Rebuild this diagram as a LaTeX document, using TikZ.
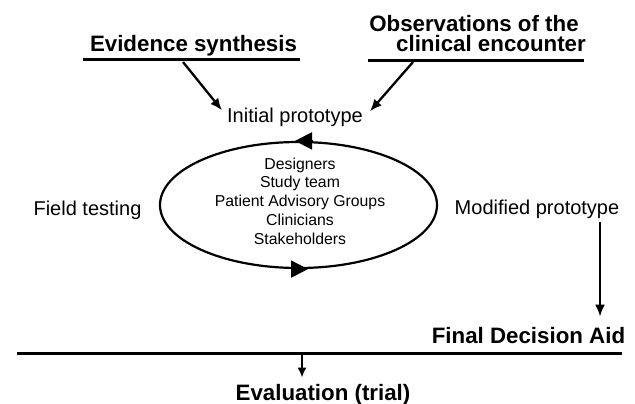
\documentclass[tikz,border=0pt]{standalone}
\usepackage{fontspec}
\setmainfont{Liberation Sans}
\usetikzlibrary{arrows.meta,shapes.geometric,calc}
\tikzset{
  bigbold/.style={font=\fontsize{22.3}{26}\selectfont\bfseries, inner sep=0pt, anchor=base},
  plainlabel/.style={font=\fontsize{20}{24}\selectfont, inner sep=0pt, anchor=base},
  members/.style={font=\fontsize{15.8}{18.75}\selectfont, inner sep=0pt, align=center, anchor=north},
  rulebar/.style={line width=3pt},
  conn/.style={line width=2.3pt, -{Latex[length=12pt,width=10pt]}},
  smallconn/.style={line width=2.3pt, -{Latex[length=10pt,width=9pt]}},
  loopbox/.style={draw, ellipse, line width=2.2pt, inner sep=0pt, minimum width=277pt, minimum height=126pt},
  looptip/.style={line width=2pt, -{Triangle[length=17pt,width=17pt]}}
}
\begin{document}
\begin{tikzpicture}[x=1pt,y=-1pt]
\useasboundingbox[fill=white] (0,0) rectangle (635,404);

% top sources
\node[bigbold] (evid) at (193.5,52) {Evidence synthesis};
\node[bigbold] (obs1) at (474,32) {Observations of the};
\node[bigbold] (obs2) at (491,52) {clinical encounter};
\coordinate (evidL) at (83,60);
\coordinate (evidR) at (300,60);
\coordinate (obsL) at (368,61);
\coordinate (obsR) at (584,61);
\draw[rulebar] (evidL) -- (evidR);
\draw[rulebar] (obsL) -- (obsR);
\coordinate (evidfoot) at (183,62);
\coordinate (obsfoot) at (413,62);

% initial prototype
\node[plainlabel] (init) at (295,122) {Initial prototype};
\draw[conn] (evidfoot) -- ([shift={(-5pt,-3pt)}]init.north west);
\draw[conn] (obsfoot) -- ([shift={(7pt,-4pt)}]init.north east);

% loop
\node[loopbox] (cycle) at (298.5,205) {};
\node[members] (team) at (300,157.6) {Designers\\Study team\\Patient Advisory Groups\\Clinicians\\Stakeholders};
\draw[looptip] ([xshift=14pt]cycle.north) -- ([xshift=-3.5pt]cycle.north);
\draw[looptip] ([xshift=-4pt]cycle.south) -- ([xshift=9.5pt]cycle.south);

\node[plainlabel] (field) at (87.5,215) {Field testing};
\node[plainlabel] (modif) at (537,214) {Modified prototype};

% final
\node[bigbold] (final) at (528.5,343) {Final Decision Aid};
\draw[conn] ([shift={(63pt,-4pt)}]modif.south) -- ([shift={(71.5pt,10pt)}]final.north);

\coordinate (lineL) at (17,353);
\coordinate (lineR) at (622,353);
\draw[rulebar] (lineL) -- (lineR);
\coordinate (split) at (302,353);

\node[bigbold] (eval) at (323,400) {Evaluation (trial)};
\draw[smallconn] (split) -- ([shift={(-21pt,6pt)}]eval.north);
\end{tikzpicture}
\end{document}
